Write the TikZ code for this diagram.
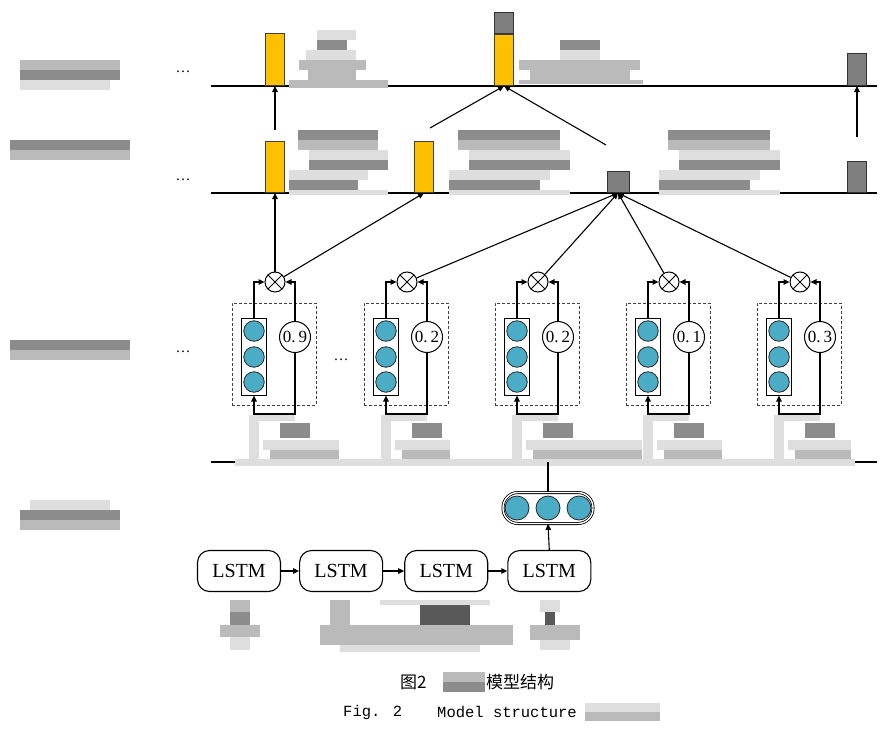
\documentclass[tikz,border=0pt]{standalone}
\usepackage{fontspec}
\setmainfont{Liberation Serif}
\newfontfamily\cjkfont{Noto Sans CJK SC}
\newfontfamily\capfont{Liberation Mono}
\usetikzlibrary{arrows.meta,positioning}
\definecolor{Gold}{HTML}{FFC000}
\definecolor{Slate}{HTML}{7F7F7F}
\definecolor{Cell}{HTML}{4BACC6}

\tikzset{
  level/.style={line width=2.2pt},
  link/.style={line width=1.1pt},
  goldbar/.style={draw=black!75,fill=Gold,line width=0.9pt,minimum width=19pt,inner sep=0pt,anchor=south},
  slatebar/.style={draw=black!80,fill=Slate,line width=0.9pt,minimum width=19pt,inner sep=0pt,anchor=south},
  cell/.style={circle,draw=black!85,fill=Cell,minimum size=20.5pt,inner sep=0pt,line width=0.8pt},
  vecbox/.style={draw,line width=1pt,minimum width=25pt,minimum height=77pt,inner sep=0pt},
  unitbox/.style={draw=black!75,dashed,dash pattern=on 3pt off 2pt,line width=0.6pt,minimum width=84pt,minimum height=102pt},
  scorenode/.style={circle,draw,line width=1pt,minimum size=31pt,inner sep=0pt,font=\fontsize{17}{17}\selectfont},
  multnode/.style={circle,draw,line width=1pt,minimum size=20pt,inner sep=0pt,
    path picture={\draw[line width=1pt] (path picture bounding box.north west) -- (path picture bounding box.south east)
      (path picture bounding box.south west) -- (path picture bounding box.north east);}},
  lstm/.style={draw,line width=1.1pt,rounded corners=12pt,minimum width=83pt,minimum height=41pt,inner sep=0pt},
  pill/.style={draw,line width=0.8pt,double=white,double distance=1.4pt,rounded corners=15pt,minimum width=90pt,minimum height=31pt},
  dotnode/.style={font=\fontsize{15}{15}\selectfont,inner sep=0pt},
  mz1/.style={fill=black!13},
  mz2/.style={fill=black!27},
  mz3/.style={fill=black!45},
  mz4/.style={fill=black!65}
}

\begin{document}
\begin{tikzpicture}[x=1pt,y=-1pt,>={Triangle[length=6pt,width=5.5pt]},font=\fontsize{20}{24}\selectfont]
\useasboundingbox (0,0) rectangle (894,731);

% three levels
\draw[level] (211,86) -- (877,86);
\draw[level] (211,193) -- (877,193);
\draw[level] (211,462) -- (877,462);

% blurred labels on the left
\fill[mz2] (20,60) rectangle (120,70);
\fill[mz3] (20,70) rectangle (120,80);
\fill[mz1] (20,80) rectangle (110,90);
\fill[mz3] (10,140) rectangle (130,150);
\fill[mz2] (10,150) rectangle (130,160);
\fill[mz3] (10,340) rectangle (130,350);
\fill[mz2] (10,350) rectangle (130,360);
\fill[mz1] (30,500) rectangle (110,510);
\fill[mz3] (20,510) rectangle (120,520);
\fill[mz2] (20,520) rectangle (120,530);

% blurred texts beside the bars
\fill[mz1] (317,30) rectangle (356,40);
\fill[mz3] (317,40) rectangle (347,50);
\fill[mz1] (306,50) rectangle (356,60);
\fill[mz2] (299,60) rectangle (366,70);
\fill[mz2] (308,70) rectangle (356,80);
\fill[mz2] (289,80) rectangle (388,88);
\fill[mz3] (560,40) rectangle (600,50);
\fill[mz1] (560,50) rectangle (600,60);
\fill[mz2] (519,60) rectangle (640,70);
\fill[mz2] (530,70) rectangle (630,80);
\fill[mz2] (519,80) rectangle (643,84);
\foreach \u/\w in {289/99,449/121,659/121}{
  \fill[mz3] (\u+9,130) rectangle (\u+\w-10,140);
  \fill[mz2] (\u+9,140) rectangle (\u+\w-10,150);
  \fill[mz1] (\u+20,150) rectangle (\u+\w,160);
  \fill[mz3] (\u+20,160) rectangle (\u+\w,170);
  \fill[mz1] (\u,170) rectangle (\u+\w-20,180);
  \fill[mz3] (\u,180) rectangle (\u+\w-30,190);
  \fill[mz1] (\u,190) rectangle (\u+\w,195);
}

% blurred inputs under the attention units
\fill[mz1] (235,459) rectangle (855,466);
\foreach \x/\w in {275/85,407/64,538/125,669/74,800/72}{
  \fill[mz1] (\x-26,415) rectangle (\x-16,462);
  \fill[mz1] (\x-26,415) rectangle (\x+20,421);
  \fill[mz3] (\x+5,423) rectangle (\x+35,438);
  \fill[mz1] (\x-12,440) rectangle (\x-21+\w,450);
  \fill[mz2] (\x-5,450) rectangle (\x-21+\w,459);
}

% blurred words under the LSTMs
\fill[mz2] (230,600) rectangle (250,612);
\fill[mz3] (230,612) rectangle (250,625);
\fill[mz2] (220,625) rectangle (260,637);
\fill[mz1] (230,637) rectangle (250,650);
\fill[mz2] (330,600) rectangle (350,625);
\fill[mz4] (420,605) rectangle (470,625);
\fill[mz1] (380,600) rectangle (490,605);
\fill[mz2] (320,625) rectangle (513,645);
\fill[mz1] (340,645) rectangle (480,652);
\fill[mz1] (540,600) rectangle (560,612);
\fill[mz4] (545,612) rectangle (555,625);
\fill[mz2] (530,625) rectangle (580,640);
\fill[mz1] (540,640) rectangle (570,650);

% bars on the two upper levels
\node[goldbar,minimum height=52pt] (a1) at (275,86) {};
\node[goldbar,minimum height=51pt] (a2) at (504,86) {};
\node[slatebar,minimum height=21pt] (a2top) at (a2.north) {};
\node[slatebar,minimum height=32pt] (a3) at (857,86) {};
\node[goldbar,minimum height=51pt] (b1) at (275,193) {};
\node[goldbar,minimum height=51pt] (b2) at (424,193) {};
\node[slatebar,minimum width=22pt,minimum height=21pt] (b3) at (618,193) {};
\node[slatebar,minimum height=31pt] (b4) at (857,193) {};

\node[dotnode] (dots1) at (183,72) {\ldots};
\node[dotnode] (dots2) at (183,180) {\ldots};
\node[dotnode] (dots3) at (183,352) {\ldots};
\node[dotnode] (dots4) at (341,360) {\ldots};

\coordinate (p1) at (275,130);
\coordinate (p2) at (430,128);
\coordinate (p3) at (606,145);
\coordinate (p4) at (857,137);
\draw[link,->] (p1) -- (a1.south);
\draw[link,->] (p2) -- (a2.south);
\draw[link,->] (p3) -- (a2.south);
\draw[link,->] (p4) -- (a3.south);

% attention units
\foreach \i/\x/\s in {1/275/9,2/407/2,3/538/2,4/669/1,5/800/3}{
  \node[unitbox] (d\i) at (\x-1,354) {};
  \node[multnode] (m\i) at (\x,282) {};
  \node[vecbox] (v\i) at (\x-21,356.5) {};
  \foreach \k/\y in {a/331,b/357,c/382}
    \node[cell] (c\i\k) at (\x-21,\y) {};
  \node[scorenode] (s\i) at (\x+20,337) {0.\,\s};
  \coordinate (k\i) at (\x-21,414);
  \draw[link,->] (v\i.north) |- (m\i.west);
  \draw[link,->] (s\i.north) |- (m\i.east);
  \draw[link,->] (s\i.south) |- (k\i) -- (v\i.south);
}
\draw[link,->] (m1) -- (b1.south);
\draw[link,->] (m1) -- (b2.south);
\foreach \i in {2,...,5}
  \draw[link,->] (m\i) -- (b3.south);

% encoder
\node[lstm] (l1) at (239,571) {LSTM};
\node[lstm,right=18pt of l1] (l2) {LSTM};
\node[lstm,right=21pt of l2] (l3) {LSTM};
\node[lstm,right=19pt of l3] (l4) {LSTM};
\draw[link,->] (l1) -- (l2);
\draw[link,->] (l2) -- (l3);
\draw[link,->] (l3) -- (l4);

\node[pill] (o) at (548,508) {};
\node[cell,minimum size=24pt] (o1) at (517,508) {};
\node[cell,minimum size=24pt] (o2) at (548,508) {};
\node[cell,minimum size=24pt] (o3) at (579,508) {};
\coordinate (q) at (548,462);
\draw[link,->] (l4.north) -- (o.south);
\draw[link] (o.north) -- (q);

% caption
\node[anchor=west,inner sep=0pt,font=\cjkfont\fontsize{17}{17}\selectfont] (cap1) at (400,682) {图2};
\fill[mz2] (443,672) rectangle (485,682);
\fill[mz3] (443,682) rectangle (485,692);
\node[anchor=west,inner sep=0pt,font=\cjkfont\fontsize{17}{17}\selectfont] (cap2) at (486,682) {模型结构};
\node[anchor=west,inner sep=0pt,font=\capfont\fontsize{15.5}{15.5}\selectfont] (cap3) at (343,712) {Fig. 2};
\node[anchor=west,inner sep=0pt,font=\capfont\fontsize{15.5}{15.5}\selectfont] (cap4) at (437,712) {Model structure};
\fill[mz1] (585,703) rectangle (660,712);
\fill[mz2] (585,712) rectangle (660,721);
\end{tikzpicture}
\end{document}
